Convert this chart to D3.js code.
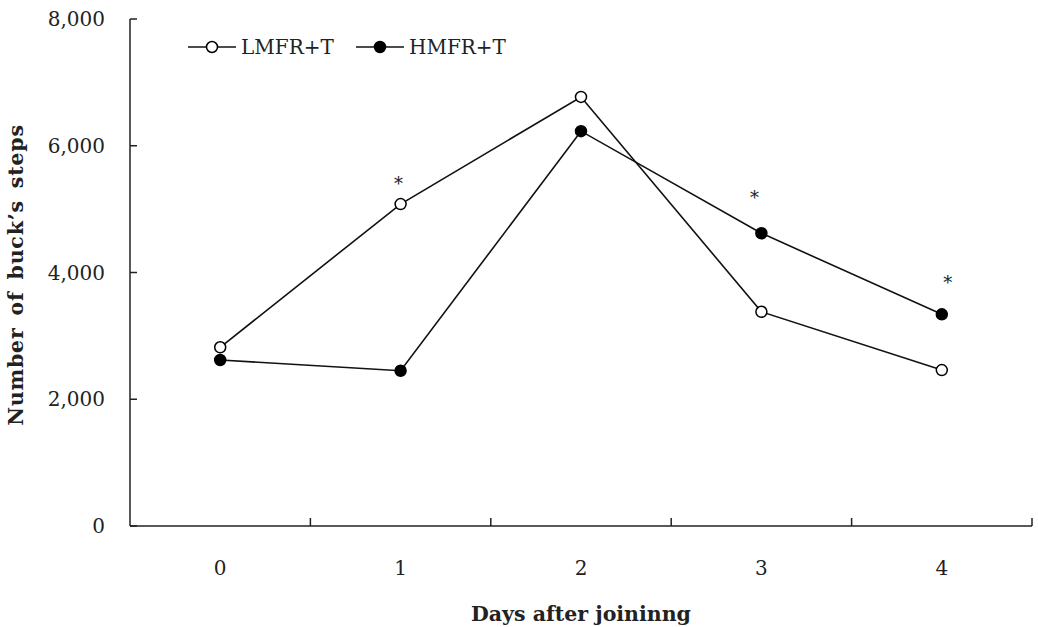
<!DOCTYPE html>
<html>
<head>
<meta charset="utf-8">
<script src="https://cdn.jsdelivr.net/npm/d3@7"></script>
<style>
  body { margin: 0; background: #fff; }
  text { font-family: "DejaVu Serif", "Liberation Serif", serif; fill: #222; }
</style>
</head>
<body>
<svg></svg>
<script>
// data
const days = ["0", "1", "2", "3", "4"];
const lmfr = [2820, 5080, 6770, 3380, 2460];
const hmfr = [2620, 2450, 6230, 4620, 3340];
const yTicks = [0, 2000, 4000, 6000, 8000];
// asterisks: [series, day index]
const stars = [["LMFR+T", 1], ["HMFR+T", 3], ["HMFR+T", 4]];
// where each asterisk sits relative to its point (px)
const starShift = [[-2, -14], [-7, -29], [6, -25]];

const width = 1038, height = 627;
const margin = {top: 19, right: 6, bottom: 101, left: 130};
let svg = d3.select("svg").attr("width", width).attr("height", height);

let x = d3.scaleBand().domain(days).range([margin.left, width - margin.right]);
let y = d3.scaleLinear().domain([0, 8000]).range([height - margin.bottom, margin.top]);

const series = [
  {name: "LMFR+T", values: lmfr, fill: "#fff"},
  {name: "HMFR+T", values: hmfr, fill: "#000"}
];

// x axis with ticks between categories, pointing up
let xAxis = svg.append("g").attr("transform", `translate(0,${y(0)})`);
xAxis.append("line")
  .attr("x1", margin.left).attr("x2", width - margin.right)
  .attr("stroke", "#222").attr("stroke-width", 1.5);
let bounds = days.map(d => x(d)).concat([x(days[days.length - 1]) + x.bandwidth()]);
xAxis.selectAll(".tk").data(bounds.slice(1)).enter().append("line")
  .attr("x1", d => d).attr("x2", d => d)
  .attr("y1", 0).attr("y2", -8)
  .attr("stroke", "#222").attr("stroke-width", 1.5);
xAxis.selectAll(".lbl").data(days).enter().append("text")
  .attr("x", d => x(d) + x.bandwidth() / 2)
  .attr("y", 49)
  .attr("text-anchor", "middle")
  .attr("font-size", 20)
  .text(d => d);

// y axis, ticks pointing right
let yAxis = svg.append("g").attr("transform", `translate(${margin.left},0)`);
yAxis.append("line")
  .attr("y1", y(0)).attr("y2", y(8000))
  .attr("stroke", "#222").attr("stroke-width", 1.5);
yAxis.selectAll(".tk").data(yTicks).enter().append("line")
  .attr("x1", 0).attr("x2", 7)
  .attr("y1", d => y(d)).attr("y2", d => y(d))
  .attr("stroke", "#222").attr("stroke-width", 1.5);
yAxis.selectAll(".lbl").data(yTicks).enter().append("text")
  .attr("x", -25)
  .attr("y", d => y(d))
  .attr("dy", "0.35em")
  .attr("text-anchor", "end")
  .attr("font-size", 20)
  .text(d => d3.format(",")(d));

// axis titles
svg.append("text")
  .attr("x", x(days[0]) + (x.range()[1] - x.range()[0]) / 2)
  .attr("y", 621)
  .attr("text-anchor", "middle")
  .attr("font-size", 20.5)
  .attr("font-weight", "bold")
  .text("Days after joininng");
svg.append("text")
  .attr("transform", `translate(23,275) rotate(-90)`)
  .attr("text-anchor", "middle")
  .attr("font-size", 20.5)
  .attr("font-weight", "bold")
  .attr("letter-spacing", 0.8)
  .attr("word-spacing", 4)
  .text("Number  of buck’s steps");

// lines and markers
let line = d3.line()
  .x((d, i) => x(days[i]) + x.bandwidth() / 2)
  .y(d => y(d));

series.forEach(s => {
  svg.append("path")
    .datum(s.values)
    .attr("d", line)
    .attr("fill", "none")
    .attr("stroke", "#111")
    .attr("stroke-width", 1.6);
  svg.selectAll(null).data(s.values).enter().append("circle")
    .attr("cx", (d, i) => x(days[i]) + x.bandwidth() / 2)
    .attr("cy", d => y(d))
    .attr("r", 5.5)
    .attr("fill", s.fill)
    .attr("stroke", "#000")
    .attr("stroke-width", 1.5);
});

// significance marks
svg.selectAll(".star").data(stars).enter().append("text")
  .attr("x", (d, i) => x(days[d[1]]) + x.bandwidth() / 2 + starShift[i][0])
  .attr("y", (d, i) => y(series.find(s => s.name === d[0]).values[d[1]]) + starShift[i][1])
  .attr("text-anchor", "middle")
  .attr("font-size", 18)
  .text("*");

// legend
let legendX = [188, 356];
let legend = svg.selectAll(".leg").data(series).enter().append("g")
  .attr("transform", (d, i) => `translate(${legendX[i]},47)`);
legend.append("line")
  .attr("x1", 0).attr("x2", 48)
  .attr("stroke", "#111").attr("stroke-width", 1.6);
legend.append("circle")
  .attr("cx", 24).attr("r", 5.5)
  .attr("fill", d => d.fill)
  .attr("stroke", "#000").attr("stroke-width", 1.5);
legend.append("text")
  .attr("x", 53).attr("dy", "0.35em")
  .attr("font-size", 20)
  .text(d => d.name);
</script>
</body>
</html>
